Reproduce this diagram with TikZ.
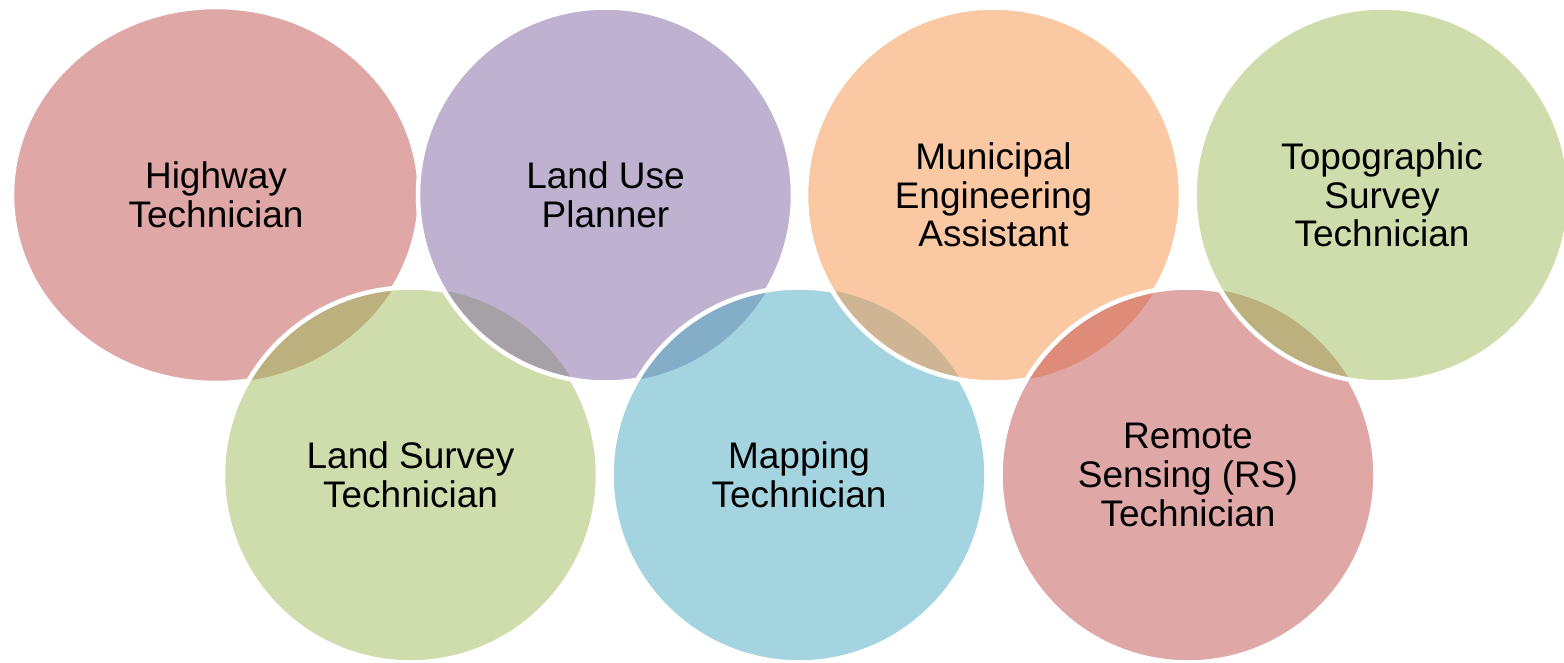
\documentclass[tikz,border=0pt]{standalone}
\usepackage{fontspec}
\setmainfont{Liberation Sans}
\usetikzlibrary{shapes.geometric}
\definecolor{cRed}{HTML}{DFA7A6}
\definecolor{cPurple}{HTML}{BFB1D0}
\definecolor{cOrange}{HTML}{FAC9A3}
\definecolor{cGreen}{HTML}{CFDDAC}
\definecolor{cBlue}{HTML}{A5D4E1}
\definecolor{lRedGreen}{HTML}{BCB07E}
\definecolor{lGreenPurple}{HTML}{A6A0A7}
\definecolor{lPurpleBlue}{HTML}{84ADC8}
\definecolor{lBlueOrange}{HTML}{CFB594}
\definecolor{lOrangeRed}{HTML}{DE8B79}
\definecolor{lRedPurple}{HTML}{AE8AA5}
\tikzset{
  lbl/.style={inner sep=0pt, align=center, text=black,
    font=\fontsize{37pt}{38.6pt}\selectfont},
  bubble/.style={lbl, circle, minimum size=375pt},
  oval/.style={lbl, ellipse, minimum width=408pt, minimum height=376pt},
  ring/.style={draw=white, line width=4.5pt},
}
\begin{document}
\begin{tikzpicture}[x=1pt,y=-1pt]
\useasboundingbox (0,0) rectangle (1564,662);
\fill[white] (0,0) rectangle (1564,662);
\clip (0,0) rectangle (1564,662);
% 1 Highway
\node[oval, fill=cRed] (hw) at (216,195) {Highway\\Technician};
\draw[ring] (hw.center) ellipse [x radius=204pt, y radius=188pt];
% 2 Land Survey
\node[bubble, fill=cGreen] (ls) at (410.5,475) {Land Survey\\Technician};
\begin{scope}
  \clip (hw.center) ellipse [x radius=204pt, y radius=188pt];
  \fill[lRedGreen] (ls.center) circle [radius=187.5pt];
\end{scope}
\draw[ring] (ls.center) circle [radius=187.5pt];
% 3 Land Use
\node[bubble, fill=cPurple] (lu) at (605.5,195) {Land Use\\Planner};
\begin{scope}
  \clip (ls.center) circle [radius=187.5pt];
  \fill[lGreenPurple] (lu.center) circle [radius=187.5pt];
\end{scope}
\begin{scope}
  \clip (hw.center) ellipse [x radius=204pt, y radius=188pt];
  \fill[lRedPurple] (lu.center) circle [radius=187.5pt];
\end{scope}
\draw[ring] (lu.center) circle [radius=187.5pt];
% 4 Mapping
\node[bubble, fill=cBlue] (mp) at (799,475) {Mapping\\Technician};
\begin{scope}
  \clip (lu.center) circle [radius=187.5pt];
  \fill[lPurpleBlue] (mp.center) circle [radius=187.5pt];
\end{scope}
\draw[ring] (mp.center) circle [radius=187.5pt];
% 5 Municipal
\node[bubble, fill=cOrange] (me) at (993.5,195) {Municipal\\Engineering\\Assistant};
\begin{scope}
  \clip (mp.center) circle [radius=187.5pt];
  \fill[lBlueOrange] (me.center) circle [radius=187.5pt];
\end{scope}
\draw[ring] (me.center) circle [radius=187.5pt];
% 6 Remote Sensing
\node[bubble, fill=cRed] (rs) at (1188,475) {Remote\\Sensing (RS)\\Technician};
\begin{scope}
  \clip (me.center) circle [radius=187.5pt];
  \fill[lOrangeRed] (rs.center) circle [radius=187.5pt];
\end{scope}
\draw[ring] (rs.center) circle [radius=187.5pt];
% 7 Topographic
\node[bubble, fill=cGreen] (tp) at (1382,195) {Topographic\\Survey\\Technician};
\begin{scope}
  \clip (rs.center) circle [radius=187.5pt];
  \fill[lRedGreen] (tp.center) circle [radius=187.5pt];
\end{scope}
\draw[ring] (tp.center) circle [radius=187.5pt];
\end{tikzpicture}
\end{document}
